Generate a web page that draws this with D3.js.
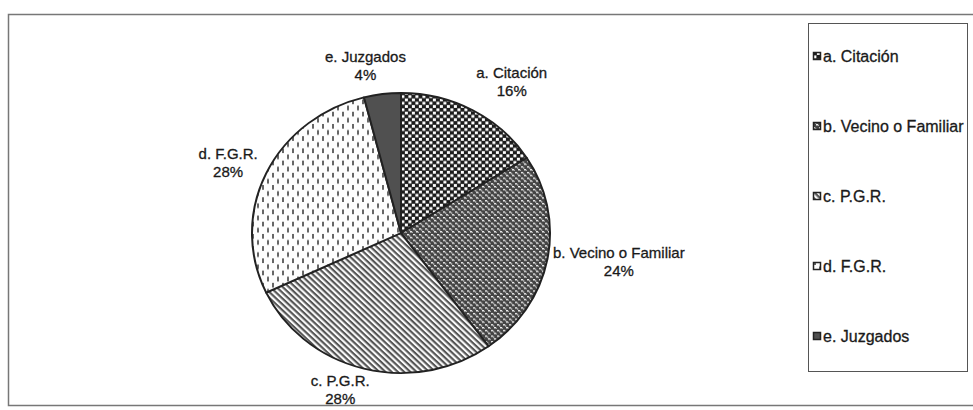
<!DOCTYPE html>
<html>
<head>
<meta charset="utf-8">
<script src="https://cdn.jsdelivr.net/npm/d3@7"></script>
<style>
  body { margin: 0; background: #fff; }
  svg text { font-family: "Liberation Sans", Arial, sans-serif; fill: #1a1a1a; stroke: #1a1a1a; stroke-width: 0.3; }
</style>
</head>
<body>
<svg id="chart" width="973" height="410"></svg>
<script>
// chart data
const categories = ['a. Citación', 'b. Vecino o Familiar', 'c. P.G.R.', 'd. F.G.R.', 'e. Juzgados'];
const shares = [16, 24, 28, 28, 4];
const pctLabels = ['16%', '24%', '28%', '28%', '4%'];
const patternIds = ['pCheck', 'pWeave', 'pDiag', 'pDash', 'pSolid'];

const W = 973, H = 410;
const cx = 401, cy = 233, r = 149, squash = 0.94;
// label nudges (layout only) for excel-style best-fit placement
const labelRadius = 180;
const labelNudge = [[24, 3], [41, -9], [-16, -21], [-10, 3], [-13, 8]];

const svg = d3.select('#chart');
const defs = svg.append('defs');

// checkerboard
const pc = defs.append('pattern').attr('id', 'pCheck')
    .attr('patternUnits', 'userSpaceOnUse').attr('width', 7).attr('height', 7);
pc.append('rect').attr('width', 7).attr('height', 7).attr('fill', '#1c1c1c');
pc.append('rect').attr('x', 0.4).attr('y', 0.4).attr('width', 3).attr('height', 3).attr('fill', '#fff');
pc.append('rect').attr('x', 3.9).attr('y', 3.9).attr('width', 3).attr('height', 3).attr('fill', '#fff');

// weave
const pw = defs.append('pattern').attr('id', 'pWeave')
    .attr('patternUnits', 'userSpaceOnUse').attr('width', 6).attr('height', 6);
pw.append('rect').attr('width', 6).attr('height', 6).attr('fill', '#444');
pw.append('path').attr('d', 'M0,1 h2.2 v1.6 h-2.2z M3,4 h2.2 v1.6 h-2.2z M2,2.4 h1.4 v1.1 h-1.4z M5,5.4 h1 v0.6 h-1z')
    .attr('fill', '#f0f0f0');

// diagonal stripes
const pd = defs.append('pattern').attr('id', 'pDiag')
    .attr('patternUnits', 'userSpaceOnUse').attr('width', 8).attr('height', 4.4)
    .attr('patternTransform', 'rotate(45)');
pd.append('rect').attr('width', 8).attr('height', 4.4).attr('fill', '#fafafa');
pd.append('rect').attr('y', 0).attr('width', 8).attr('height', 2.2).attr('fill', '#555');

// vertical dashes
const pv = defs.append('pattern').attr('id', 'pDash')
    .attr('patternUnits', 'userSpaceOnUse').attr('width', 10).attr('height', 13);
pv.append('rect').attr('width', 10).attr('height', 13).attr('fill', '#fdfdfd');
pv.append('rect').attr('x', 1).attr('y', 1).attr('width', 2).attr('height', 5).attr('fill', '#666');
pv.append('rect').attr('x', 6).attr('y', 7.5).attr('width', 2).attr('height', 5).attr('fill', '#666');

// solid
defs.append('pattern').attr('id', 'pSolid')
    .attr('patternUnits', 'userSpaceOnUse').attr('width', 4).attr('height', 4)
    .append('rect').attr('width', 4).attr('height', 4).attr('fill', '#505050');

// outer frame
svg.append('rect')
    .attr('x', 8.5).attr('y', 14.5).attr('width', 990).attr('height', 391)
    .attr('fill', 'none').attr('stroke', '#777').attr('stroke-width', 1.5);

// pie
const pie = d3.pie().sort(null).value(d => d);
const arcs = pie(shares);
const arc = d3.arc().innerRadius(0).outerRadius(r);

const g = svg.append('g').attr('transform', `translate(${cx},${cy}) scale(1,${squash})`);
g.selectAll('path.slice')
    .data(arcs)
    .enter()
    .append('path')
    .attr('class', 'slice')
    .attr('d', arc)
    .attr('fill', (d, i) => `url(#${patternIds[i]})`)
    .attr('stroke', '#222')
    .attr('stroke-width', 2)
    .attr('stroke-linejoin', 'round');

// data labels
const labelArc = d3.arc().innerRadius(labelRadius).outerRadius(labelRadius);
const labels = svg.append('g').attr('transform', `translate(${cx},${cy})`)
    .selectAll('.dlabel')
    .data(arcs)
    .enter()
    .append('text')
    .attr('class', 'dlabel')
    .attr('text-anchor', 'middle')
    .attr('font-size', 15)
    .attr('transform', (d, i) => {
        const [x, y] = labelArc.centroid(d);
        return `translate(${x + labelNudge[i][0]},${y + labelNudge[i][1]})`;
    });
labels.append('tspan').attr('x', 0).attr('y', 0).text((d, i) => categories[i]);
labels.append('tspan').attr('x', 0).attr('y', 18).text((d, i) => pctLabels[i]);

// legend
const legend = svg.append('g');
legend.append('rect')
    .attr('x', 808.5).attr('y', 23.5).attr('width', 159).attr('height', 348)
    .attr('fill', '#fff').attr('stroke', '#555').attr('stroke-width', 1);

const ly = d3.scalePoint().domain(categories).range([62, 342]);
const items = legend.selectAll('.item')
    .data(categories)
    .enter()
    .append('g')
    .attr('class', 'item')
    .attr('transform', d => `translate(813,${ly(d)})`);
items.append('rect')
    .attr('x', 0.5).attr('y', -9.5).attr('width', 7).attr('height', 7)
    .attr('fill', (d, i) => `url(#${patternIds[i]})`)
    .attr('stroke', '#222').attr('stroke-width', 1.5);
items.append('text')
    .attr('x', 10).attr('y', 0)
    .attr('font-size', 16)
    .text(d => d);
</script>
</body>
</html>
